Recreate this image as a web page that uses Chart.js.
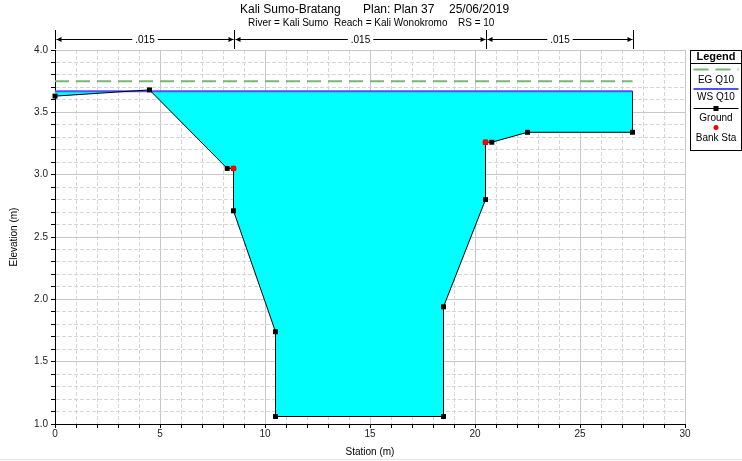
<!DOCTYPE html>
<html>
<head>
<meta charset="utf-8">
<title>Kali Sumo-Bratang RS 10</title>
<script src="https://cdn.jsdelivr.net/npm/chart.js@4/dist/chart.umd.min.js"></script>
<style>
  html, body { margin: 0; padding: 0; background: #fff; }
  #wrap { width: 742px; height: 461px; position: relative; }
</style>
</head>
<body>
<div id="wrap"><canvas id="xs" width="742" height="461"></canvas></div>
<script>
// Cross section RS 10, Kali Sumo / Kali Wonokromo reach
const groundStation = [0, 4.5, 8.2, 8.5, 8.5, 10.5, 10.5, 18.5, 18.5, 20.5, 20.5, 20.8, 22.5, 27.5];
const groundElev    = [3.63, 3.68, 3.05, 3.05, 2.71, 1.74, 1.06, 1.06, 1.94, 2.80, 3.26, 3.26, 3.34, 3.34];
const bankStation   = [8.5, 20.5];
const bankElev      = [3.05, 3.26];
const profileStation = [0, 27.5];
const wsQ10 = [3.67, 3.67];
const egQ10 = [3.75, 3.75];
const manningBreaks = [0, 8.5, 20.5, 27.5];
const manningN = ['.015', '.015', '.015'];
const xTickLabels = [0, 5, 10, 15, 20, 25, 30];
const yTickLabels = [1.0, 1.5, 2.0, 2.5, 3.0, 3.5, 4.0];

const FONT = "'Liberation Sans', Arial, sans-serif";
const COLORS = {
  eg: '#74b874',
  ws: '#5050ff',
  water: '#00ffff',
  ground: '#000000',
  bank: '#ff0000',
  gridMajor: '#c8c8c8',
  gridMinor: '#d6d6d6'
};

const pts = (xs, ys) => xs.map((x, i) => ({ x, y: ys[i] }));
const near = (a, b) => Math.abs(a - b) < 1e-6;
const isMajorX = v => xTickLabels.some(t => near(t, v));
const isMajorY = v => yTickLabels.some(t => near(t, v));

// end wall of the wetted area at the last ground station
const lastSta = groundStation[groundStation.length - 1];
const lastElev = groundElev[groundElev.length - 1];
const endWall = [{ x: lastSta, y: lastElev }, { x: lastSta, y: wsQ10[wsQ10.length - 1] }];

// Titles, Manning's n brackets and the legend box
const sectionDecor = {
  id: 'sectionDecor',
  afterDraw(chart) {
    const ctx = chart.ctx;
    const xs = chart.scales.x;
    const area = chart.chartArea;
    ctx.save();

    // title lines
    ctx.fillStyle = '#000';
    ctx.textBaseline = 'middle';
    ctx.textAlign = 'left';
    ctx.font = '12px ' + FONT;
    ctx.fillText('Kali Sumo-Bratang', 240, 10);
    ctx.fillText('Plan: Plan 37', 363, 10);
    ctx.fillText('25/06/2019', 449, 10);
    ctx.font = '10px ' + FONT;
    ctx.fillText('River = Kali Sumo', 248, 23);
    ctx.fillText('Reach = Kali Wonokromo', 334, 23);
    ctx.fillText('RS = 10', 458, 23);

    // Manning's n brackets over the plot
    const yLine = area.top - 10.5;
    const px = v => Math.round(xs.getPixelForValue(v)) + 0.5;
    ctx.strokeStyle = '#000';
    ctx.fillStyle = '#000';
    ctx.lineWidth = 1;
    manningBreaks.forEach(b => {
      const x = px(b);
      ctx.beginPath();
      ctx.moveTo(x, area.top - 20);
      ctx.lineTo(x, area.top - 1);
      ctx.stroke();
    });
    ctx.font = '10px ' + FONT;
    ctx.textAlign = 'center';
    for (let i = 0; i < manningN.length; i++) {
      const x1 = px(manningBreaks[i]);
      const x2 = px(manningBreaks[i + 1]);
      const mid = (x1 + x2) / 2;
      const w = ctx.measureText(manningN[i]).width;
      ctx.beginPath();
      ctx.moveTo(x1 + 1, yLine);
      ctx.lineTo(mid - w / 2 - 3, yLine);
      ctx.moveTo(mid + w / 2 + 3, yLine);
      ctx.lineTo(x2 - 1, yLine);
      ctx.stroke();
      ctx.beginPath();
      ctx.moveTo(x1 + 1, yLine);
      ctx.lineTo(x1 + 6, yLine - 2.5);
      ctx.lineTo(x1 + 6, yLine + 2.5);
      ctx.closePath();
      ctx.moveTo(x2 - 1, yLine);
      ctx.lineTo(x2 - 6, yLine - 2.5);
      ctx.lineTo(x2 - 6, yLine + 2.5);
      ctx.closePath();
      ctx.fill();
      ctx.fillText(manningN[i], mid, yLine + 0.5);
    }

    // legend box
    const L = 690.5, R = 741.5, T = 50.5, B = 150.5;
    const cx = (L + R) / 2;
    ctx.strokeStyle = '#000';
    ctx.lineWidth = 1;
    ctx.strokeRect(L, T, R - L, B - T);
    ctx.beginPath();
    ctx.moveTo(L, 63.5);
    ctx.lineTo(R, 63.5);
    ctx.stroke();
    ctx.fillStyle = '#000';
    ctx.font = 'bold 11px ' + FONT;
    ctx.fillText('Legend', cx, 57);
    ctx.font = '10px ' + FONT;

    const ds = chart.data.datasets;
    const sample = (y, d) => {
      ctx.save();
      ctx.strokeStyle = d.borderColor;
      ctx.lineWidth = d.borderWidth;
      ctx.setLineDash(d.borderDash || []);
      ctx.beginPath();
      ctx.moveTo(L + 3, y);
      ctx.lineTo(R - 3, y);
      ctx.stroke();
      ctx.restore();
    };
    const eg = ds.find(d => d.label === 'EG Q10');
    const ws = ds.find(d => d.label === 'WS Q10');
    const gr = ds.find(d => d.label === 'Ground');
    const bk = ds.find(d => d.label === 'Bank Sta');
    sample(69.5, { borderColor: eg.borderColor, borderWidth: eg.borderWidth, borderDash: [15, 7] });
    ctx.fillText('EG Q10', cx, 80);
    sample(89, { borderColor: ws.borderColor, borderWidth: ws.borderWidth });
    ctx.fillText('WS Q10', cx, 97);
    sample(108.5, gr);
    ctx.fillStyle = gr.pointBackgroundColor;
    ctx.fillRect(cx - 2.5, 106, 5, 5);
    ctx.fillStyle = '#000';
    ctx.fillText('Ground', cx, 118);
    ctx.fillStyle = bk.pointBackgroundColor;
    ctx.beginPath();
    ctx.arc(cx, 127.5, 2.5, 0, Math.PI * 2);
    ctx.fill();
    ctx.fillStyle = '#000';
    ctx.fillText('Bank Sta', cx, 138);

    // frame line along the bottom edge
    ctx.strokeStyle = '#e4e4e4';
    ctx.beginPath();
    ctx.moveTo(0, 459.5);
    ctx.lineTo(742, 459.5);
    ctx.stroke();

    ctx.restore();
  }
};

const tickFont = { family: FONT, size: 10 };

new Chart(document.getElementById('xs'), {
  type: 'scatter',
  data: {
    datasets: [
      {
        label: 'Bank Sta',
        data: pts(bankStation, bankElev),
        showLine: false,
        pointStyle: 'circle',
        pointRadius: 3,
        pointBorderWidth: 0,
        pointBackgroundColor: COLORS.bank,
        pointBorderColor: COLORS.bank,
        clip: false
      },
      {
        label: 'Ground',
        data: pts(groundStation, groundElev),
        showLine: true,
        borderColor: COLORS.ground,
        borderWidth: 1,
        pointStyle: 'rect',
        pointRadius: 3.5,
        pointBorderWidth: 0,
        pointBackgroundColor: COLORS.ground,
        pointBorderColor: COLORS.ground,
        fill: { value: wsQ10[0], above: 'rgba(0,0,0,0)', below: COLORS.water },
        tension: 0,
        clip: false
      },
      {
        label: 'End wall',
        data: endWall,
        showLine: true,
        borderColor: '#202020',
        borderWidth: 1,
        pointRadius: 0,
        fill: false
      },
      {
        label: 'WS Q10',
        data: pts(profileStation, wsQ10),
        showLine: true,
        borderColor: COLORS.ws,
        borderWidth: 2,
        pointRadius: 0,
        fill: false
      },
      {
        label: 'EG Q10',
        data: pts(profileStation, egQ10),
        showLine: true,
        borderColor: COLORS.eg,
        borderWidth: 2,
        borderDash: [14, 7],
        pointRadius: 0,
        fill: false
      }
    ]
  },
  options: {
    responsive: false,
    devicePixelRatio: 1,
    animation: false,
    layout: { padding: { top: 50, right: 57, left: 0, bottom: 0 } },
    plugins: {
      legend: { display: false },
      tooltip: { enabled: false },
      filler: { drawTime: 'beforeDatasetsDraw' }
    },
    scales: {
      x: {
        type: 'linear',
        min: 0,
        max: 30,
        afterFit: s => { s.height = 37; },
        ticks: {
          stepSize: 1,
          autoSkip: false,
          maxRotation: 0,
          padding: 0,
          color: '#222',
          font: tickFont,
          callback: v => (isMajorX(v) ? String(Math.round(v)) : '')
        },
        grid: {
          color: c => (c.tick && isMajorX(c.tick.value) ? COLORS.gridMajor : COLORS.gridMinor),
          lineWidth: 1,
          tickColor: '#000',
          tickLength: 4,
          tickBorderDash: []
        },
        border: {
          display: true,
          color: '#000',
          width: 1,
          dash: c => (c.tick && !isMajorX(c.tick.value) ? [4, 2] : [])
        },
        title: {
          display: true,
          text: 'Station (m)',
          color: '#000',
          font: { family: FONT, size: 10 },
          padding: { top: 0, bottom: 3 }
        }
      },
      y: {
        type: 'linear',
        min: 1,
        max: 4,
        afterFit: s => { s.width = 55; },
        ticks: {
          stepSize: 0.1,
          autoSkip: false,
          padding: 3,
          color: '#222',
          font: tickFont,
          callback: v => {
            const t = yTickLabels.find(k => near(k, v));
            return t === undefined ? '' : t.toFixed(1);
          }
        },
        grid: {
          color: c => (c.tick && isMajorY(c.tick.value) ? COLORS.gridMajor : COLORS.gridMinor),
          lineWidth: 1,
          tickColor: '#000',
          tickLength: 4,
          tickBorderDash: []
        },
        border: {
          display: true,
          color: '#000',
          width: 1,
          dash: c => (c.tick && !isMajorY(c.tick.value) ? [4, 2] : [])
        },
        title: {
          display: true,
          text: 'Elevation (m)',
          color: '#000',
          font: { family: FONT, size: 10 },
          padding: { top: 8, bottom: 0 }
        }
      }
    }
  },
  plugins: [sectionDecor]
});
</script>
</body>
</html>
